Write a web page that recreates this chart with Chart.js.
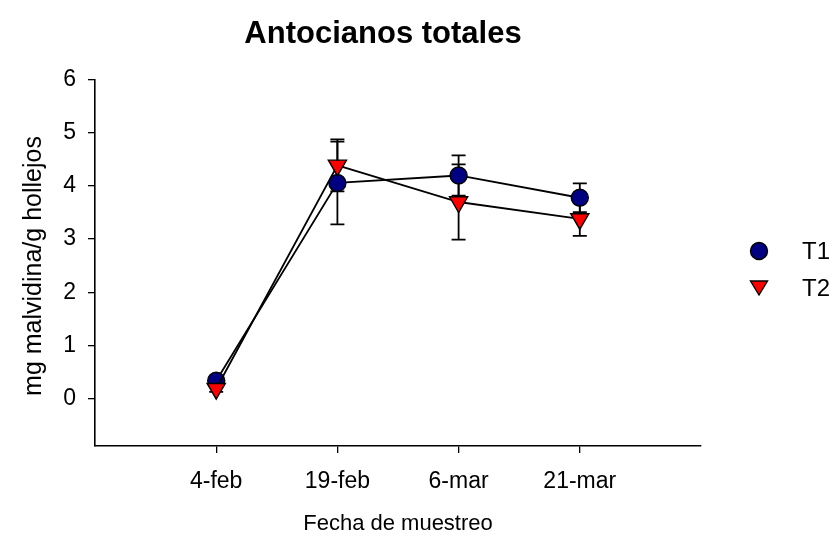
<!DOCTYPE html>
<html>
<head>
<meta charset="utf-8">
<script src="https://cdn.jsdelivr.net/npm/chart.js@4"></script>
<style>
html,body{margin:0;padding:0;background:#fff;}
#wrap{width:835px;height:538px;position:relative;}
</style>
</head>
<body>
<div id="wrap"><canvas id="c" width="835" height="538"></canvas></div>
<script>
const categories = ['4-feb', '19-feb', '6-mar', '21-mar'];
const xPositions = [1, 2, 3, 4];
const t1Values = [0.33, 4.06, 4.20, 3.78];
const t1Errors = [0.06, 0.78, 0.38, 0.27];
const t2Values = [0.18, 4.39, 3.70, 3.38];
const t2Errors = [0.06, 0.49, 0.71, 0.32];
const yTicks = [0, 1, 2, 3, 4, 5, 6];

const FONT = '"Liberation Sans", Arial, sans-serif';

function toPoints(vals) { return vals.map((v, i) => ({ x: xPositions[i], y: v })); }

const errorBars = {
  id: 'errorBars',
  beforeDatasetsDraw(chart) {
    const ctx = chart.ctx;
    const xs = chart.scales.x, ys = chart.scales.y;
    const sets = [[t1Values, t1Errors], [t2Values, t2Errors]];
    ctx.save();
    ctx.strokeStyle = '#000';
    ctx.lineWidth = 1.8;
    sets.forEach(([vals, errs]) => {
      vals.forEach((v, i) => {
        const px = xs.getPixelForValue(xPositions[i]);
        const top = ys.getPixelForValue(v + errs[i]);
        const bot = ys.getPixelForValue(v - errs[i]);
        ctx.beginPath();
        ctx.moveTo(px, top); ctx.lineTo(px, bot);
        ctx.moveTo(px - 7, top); ctx.lineTo(px + 7, top);
        ctx.moveTo(px - 7, bot); ctx.lineTo(px + 7, bot);
        ctx.stroke();
      });
    });
    ctx.restore();
  }
};

const texts = {
  id: 'texts',
  afterDraw(chart) {
    const ctx = chart.ctx;
    ctx.save();
    ctx.fillStyle = '#000';
    ctx.textAlign = 'center';
    ctx.textBaseline = 'alphabetic';
    ctx.font = 'bold 31px ' + FONT;
    ctx.fillText('Antocianos totales', 383, 43);
    ctx.font = '22px ' + FONT;
    ctx.fillText('Fecha de muestreo', 398, 530);
    ctx.save();
    ctx.translate(41, 266);
    ctx.rotate(-Math.PI / 2);
    ctx.font = '25px ' + FONT;
    ctx.fillText('mg malvidina/g hollejos', 0, 0);
    ctx.restore();
    // legend
    ctx.lineWidth = 1.4;
    ctx.strokeStyle = '#000';
    ctx.fillStyle = '#000080';
    ctx.beginPath();
    ctx.arc(759, 251, 8.5, 0, Math.PI * 2);
    ctx.fill(); ctx.stroke();
    ctx.fillStyle = '#ff0000';
    ctx.beginPath();
    ctx.moveTo(750.5, 281); ctx.lineTo(767.5, 281); ctx.lineTo(759, 295); ctx.closePath();
    ctx.fill(); ctx.stroke();
    ctx.fillStyle = '#000';
    ctx.textAlign = 'left';
    ctx.textBaseline = 'middle';
    ctx.font = '24px ' + FONT;
    ctx.fillText('T1', 802, 252);
    ctx.fillText('T2', 802, 289);
    ctx.restore();
  }
};

new Chart(document.getElementById('c'), {
  type: 'line',
  data: {
    datasets: [
      {
        label: 'T1',
        data: toPoints(t1Values),
        borderColor: '#000',
        borderWidth: 1.8,
        pointStyle: 'circle',
        pointRadius: 8.5,
        pointBackgroundColor: '#000080',
        pointBorderColor: '#000',
        pointBorderWidth: 1.4,
        order: 1
      },
      {
        label: 'T2',
        data: toPoints(t2Values),
        borderColor: '#000',
        borderWidth: 1.8,
        pointStyle: 'triangle',
        rotation: 180,
        pointRadius: 10.5,
        pointBackgroundColor: '#ff0000',
        pointBorderColor: '#000',
        pointBorderWidth: 1.4,
        order: 0
      }
    ]
  },
  options: {
    responsive: false,
    animation: false,
    devicePixelRatio: 1,
    layout: { padding: { left: 0, right: 134, top: 80, bottom: 0 } },
    plugins: { legend: { display: false }, tooltip: { enabled: false }, title: { display: false } },
    scales: {
      x: {
        type: 'linear',
        min: 0, max: 5,
        afterBuildTicks(scale) { scale.ticks = xPositions.map(v => ({ value: v })); },
        afterFit(scale) { scale.height = 92; },
        ticks: {
          callback: (v) => categories[xPositions.indexOf(v)],
          color: '#000',
          font: { family: FONT, size: 23 },
          padding: 15,
          maxRotation: 0, autoSkip: false
        },
        grid: { display: true, drawOnChartArea: false, drawTicks: true, tickLength: 7, color: '#000', lineWidth: 1.3 },
        border: { display: true, color: '#000', width: 1.6 }
      },
      y: {
        min: -0.9, max: 6,
        afterBuildTicks(scale) { scale.ticks = yTicks.map(v => ({ value: v })); },
        afterFit(scale) { scale.width = 95; },
        ticks: {
          color: '#000',
          font: { family: FONT, size: 23 },
          padding: 12
        },
        grid: { display: true, drawOnChartArea: false, drawTicks: true, tickLength: 7, color: '#000', lineWidth: 1.3 },
        border: { display: true, color: '#000', width: 1.6 }
      }
    }
  },
  plugins: [errorBars, texts]
});
</script>
</body>
</html>
